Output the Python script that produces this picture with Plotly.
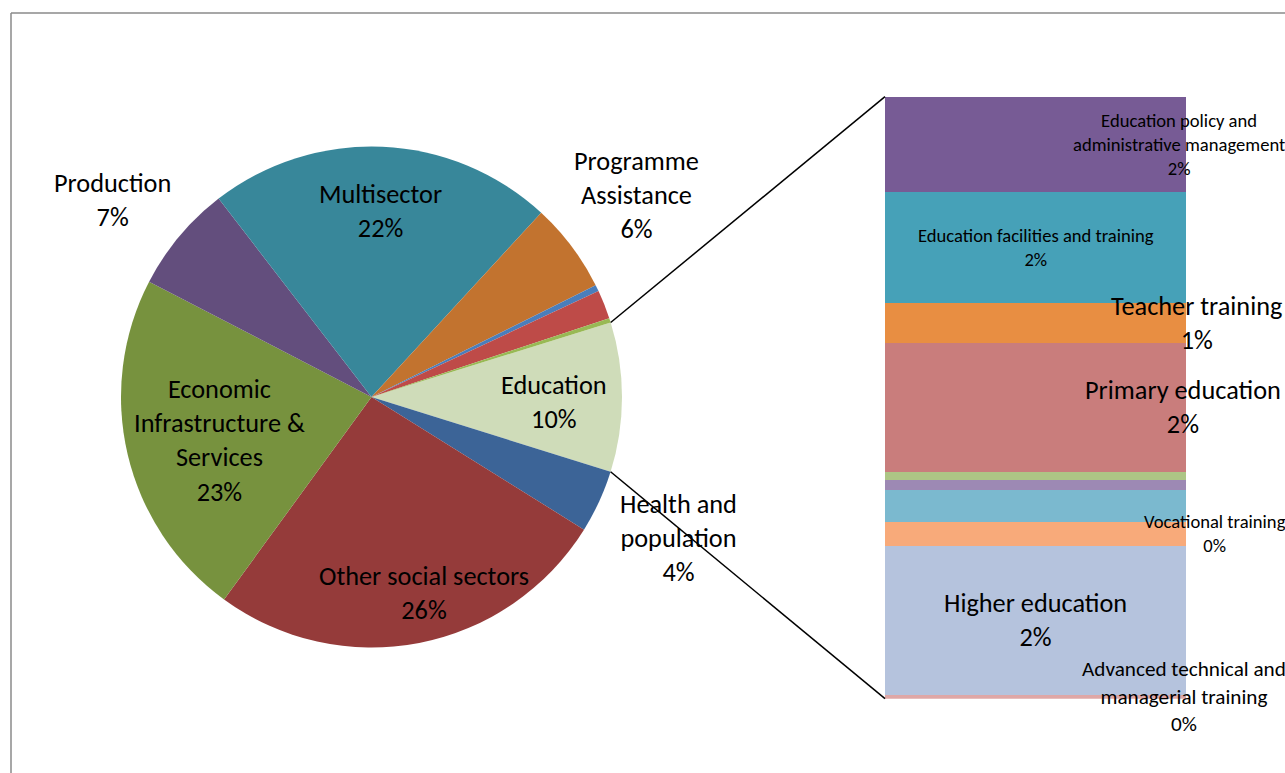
import math
import plotly.graph_objects as go

W, H = 1285, 773

# ---------------- data ----------------
# Pie (share of total, %), clockwise starting with the "Education" slice that is split into the bar
pie_names = ["Education", "Health and population", "Other social sectors",
             "Economic Infrastructure & Services", "Production", "Multisector",
             "Programme Assistance", "Action relating to debt", "Humanitarian aid",
             "Unallocated / unspecified"]
pie_values = [9.63, 4.06, 26.14, 22.6, 6.94, 22.3, 5.79, 0.42, 1.85, 0.29]
pie_display = ["Education", "Health and<br>population", "Other social sectors",
               "Economic<br>Infrastructure &<br>Services", "Production", "Multisector",
               "Programme<br>Assistance", None, None, None]
pie_colors = ["#cfdcb9", "#3c6497", "#953b3a", "#77923e", "#634e7d", "#38879a",
              "#c2732f", "#4a7ebb", "#be4b48", "#98b954"]

# Bar of the Education slice (share of total, %), listed bottom to top
edu_names = ["Advanced technical and managerial training", "Higher education",
             "Vocational training", "Secondary education", "Early childhood education",
             "Basic life skills for youth and adults", "Primary education",
             "Teacher training", "Education facilities and training",
             "Education policy and administrative management"]
edu_values = [0.06, 2.39, 0.38, 0.51, 0.16, 0.13, 2.06, 0.64, 1.78, 1.52]
edu_display = ["Advanced technical and<br>managerial training", "Higher education",
               "Vocational training", None, None, None, "Primary education",
               "Teacher training", "Education facilities and training",
               "Education policy and<br>administrative management"]
edu_colors = ["#dfa7a6", "#b5c3dd", "#f8aa7a", "#7bb9cf", "#9d89b4", "#adc585",
              "#c97d7c", "#e88e42", "#46a1b8", "#775b95"]

# ---------------- layout constants ----------------
FONT = "Carlito, Calibri, Lato, sans-serif"
BIG, MID, SMALL = 26.3, 21.2, 18.6
cx, cy, R = 371.5, 397.0, 250.5          # pie centre / radius in px
start_angle = 72.7                          # compass angle where the first slice starts
bar_x0, bar_x1, bar_y0, bar_y1 = 885, 1186, 96.7, 698.7

# label placement for pie: (radial factor, angle tweak)
pie_label_pos = [(0.73, 1.5), (1.35, 0.0), (0.81, -4.0), (0.63, -2.7), (1.30, -2.6),
                 (0.745, 0.4), (1.33, -0.4), None, None, None]
# label placement for bar: (x in bar-width units from centre, font size)
edu_label_pos = [(0.493, MID), (0.0, BIG), (0.596, SMALL), None, None, None,
                 (0.490, BIG), (0.535, BIG), (0.0, SMALL), (0.478, SMALL)]


def pct(v, tot):
    return f"{int(v / tot * 100 + 0.5)}%"


total = sum(pie_values)

fig = go.Figure()
fig.add_trace(go.Pie(
    labels=pie_names, values=pie_values, sort=False, direction="clockwise",
    rotation=start_angle, textinfo="none", hoverinfo="label+percent",
    marker=dict(colors=pie_colors, line=dict(width=0)), showlegend=False,
    domain=dict(x=[(cx - R) / W, (cx + R) / W], y=[1 - (cy + R) / H, 1 - (cy - R) / H]),
))

for name, val, col in zip(edu_names, edu_values, edu_colors):
    fig.add_trace(go.Bar(x=[0], y=[val], width=1, name=name, marker=dict(color=col, line=dict(width=0)),
                         showlegend=False, hoverinfo="name+y"))

annotations = []
# pie labels
acc = 0.0
for name, val, disp, pos in zip(pie_names, pie_values, pie_display, pie_label_pos):
    mid = start_angle + (acc + val / 2) / total * 360
    acc += val
    if disp is None:
        continue
    f, dt = pos
    th = math.radians(mid + dt)
    px = cx + f * R * math.sin(th)
    py = cy - f * R * math.cos(th)
    annotations.append(dict(x=px / W, y=1 - py / H, xref="paper", yref="paper",
                            text=f"{disp}<br>{pct(val, total)}", showarrow=False,
                            font=dict(family=FONT, size=BIG, color="#000000"),
                            xanchor="center", yanchor="middle", align="center"))
# bar labels
acc = 0.0
for val, disp, pos in zip(edu_values, edu_display, edu_label_pos):
    mid = acc + val / 2
    acc += val
    if disp is None:
        continue
    xx, fs = pos
    xp = (bar_x0 + (xx + 0.5) * (bar_x1 - bar_x0)) / W
    annotations.append(dict(x=xp, y=mid, xref="paper", yref="y",
                            text=f"{disp}<br>{pct(val, total)}", showarrow=False,
                            font=dict(family=FONT, size=fs, color="#000000"),
                            xanchor="center", yanchor="middle", align="center"))

# connector lines from the Education slice edges to the bar corners
edu_total = sum(edu_values)
a0 = math.radians(start_angle)
a1 = math.radians(start_angle + pie_values[0] / total * 360)
shapes = []
for a, by in [(a0, bar_y0), (a1, bar_y1)]:
    px = cx + R * math.sin(a)
    py = cy - R * math.cos(a)
    shapes.append(dict(type="line", xref="paper", yref="paper",
                       x0=px / W, y0=1 - py / H, x1=bar_x0 / W, y1=1 - by / H,
                       line=dict(color="#000000", width=1.5)))
# chart-area frame (top and left edges visible)
shapes.append(dict(type="line", xref="paper", yref="paper", x0=11 / W, x1=1.01, y0=1 - 13 / H, y1=1 - 13 / H,
                   line=dict(color="#8a8a8a", width=1.5)))
shapes.append(dict(type="line", xref="paper", yref="paper", x0=11 / W, x1=11 / W, y0=1 - 13 / H, y1=-0.01,
                   line=dict(color="#8a8a8a", width=1.5)))

fig.update_layout(
    width=W, height=H, margin=dict(l=0, r=0, t=0, b=0),
    paper_bgcolor="#ffffff", plot_bgcolor="rgba(0,0,0,0)",
    barmode="stack", bargap=0,
    xaxis=dict(domain=[bar_x0 / W, bar_x1 / W], range=[-0.5, 0.5], visible=False, fixedrange=True),
    yaxis=dict(domain=[1 - bar_y1 / H, 1 - bar_y0 / H], range=[0, edu_total], visible=False, fixedrange=True),
    annotations=annotations, shapes=shapes,
)

fig.write_html("out.html", config={"displayModeBar": False},
               post_script="document.body.style.margin='0';document.body.style.overflow='hidden';")
